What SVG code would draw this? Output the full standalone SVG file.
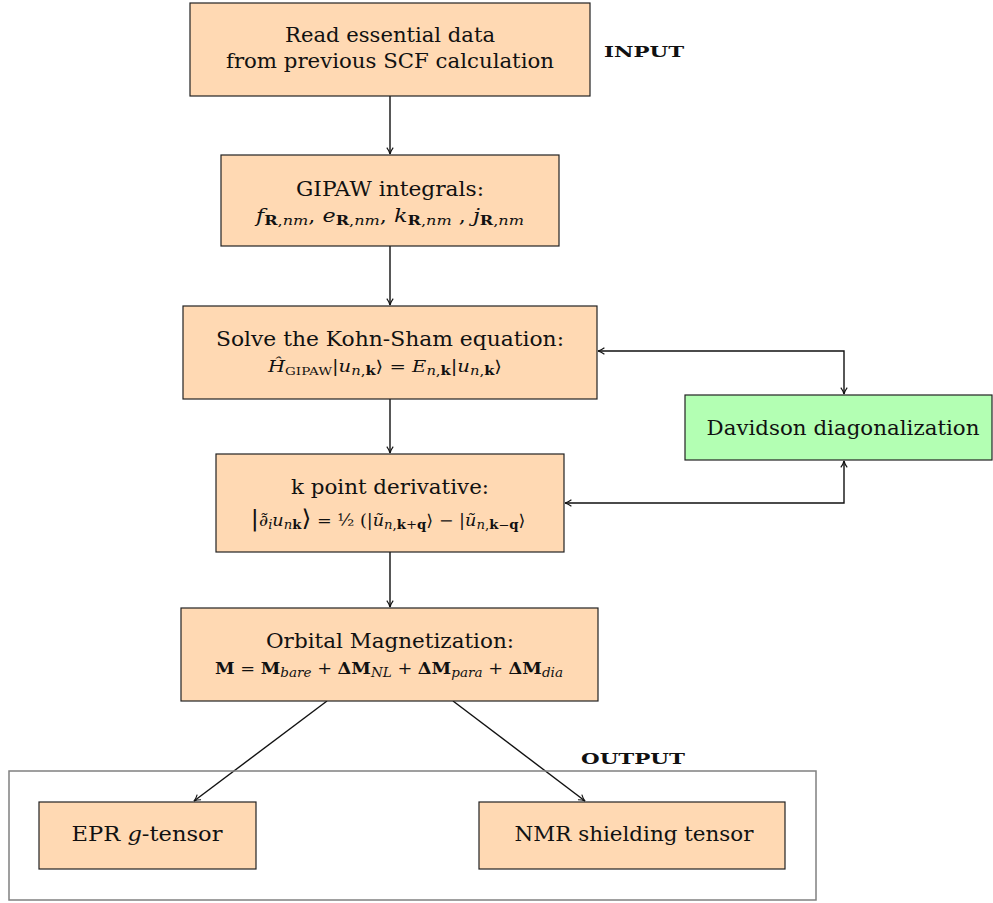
<svg xmlns="http://www.w3.org/2000/svg" width="993" height="903" viewBox="0 0 993 903">
<defs>
<style>
.box{fill:#FFD9B3;stroke:#222;stroke-width:1.2}
.gbox{fill:#B3FFB3;stroke:#222;stroke-width:1.2}
.frame{fill:none;stroke:#808080;stroke-width:1.5}
text{font-family:"DejaVu Serif","Liberation Serif",serif;fill:#111}
.t{font-size:21px;text-anchor:middle}
.m{font-size:18px;text-anchor:middle}
.lbl{font-size:15px;font-weight:bold}
.i{font-style:italic}
.b{font-weight:bold}
.s{font-size:13px;baseline-shift:-3px}
.c{fill:none;stroke:#111;stroke-width:1.4}
</style>
<marker id="ah" viewBox="0 0 10 10" refX="9" refY="5" markerWidth="8" markerHeight="8" orient="auto-start-reverse" markerUnits="userSpaceOnUse">
<path d="M1,1 Q5,4 9,5 Q5,6 1,9" fill="none" stroke="#111" stroke-width="1.4"/>
</marker>
</defs>
<rect width="993" height="903" fill="#fff"/>

<g id="connectors">
<line class="c" x1="390" y1="96" x2="390" y2="154" marker-end="url(#ah)"/>
<line class="c" x1="390" y1="246" x2="390" y2="305" marker-end="url(#ah)"/>
<line class="c" x1="390" y1="399" x2="390" y2="453" marker-end="url(#ah)"/>
<line class="c" x1="390" y1="552" x2="390" y2="607" marker-end="url(#ah)"/>
<line class="c" x1="327" y1="701" x2="194" y2="801" marker-end="url(#ah)"/>
<line class="c" x1="453" y1="701" x2="585" y2="801" marker-end="url(#ah)"/>
<polyline class="c" points="598,351 844,351 844,394" marker-start="url(#ah)" marker-end="url(#ah)"/>
<polyline class="c" points="565,503 844,503 844,461" marker-start="url(#ah)" marker-end="url(#ah)"/>
</g>

<g id="read">
<rect class="box" x="190" y="3" width="400" height="93"/>
<text class="t" x="390" y="42" textLength="210" lengthAdjust="spacingAndGlyphs">Read essential data</text>
<text class="t" x="390" y="68" textLength="328" lengthAdjust="spacingAndGlyphs">from previous SCF calculation</text>
</g>
<g id="input-label">
<text class="lbl" x="604" y="57" textLength="80" lengthAdjust="spacingAndGlyphs">INPUT</text>
</g>

<g id="gipaw">
<rect class="box" x="221" y="155" width="338" height="91"/>
<text class="t" x="390" y="196" textLength="188" lengthAdjust="spacingAndGlyphs">GIPAW integrals:</text>
<text class="m" x="390" y="222" textLength="268" lengthAdjust="spacingAndGlyphs"><tspan class="i">f</tspan><tspan class="s"><tspan class="b">R</tspan>,<tspan class="i">nm</tspan></tspan>, <tspan class="i">e</tspan><tspan class="s"><tspan class="b">R</tspan>,<tspan class="i">nm</tspan></tspan>, <tspan class="i">k</tspan><tspan class="s"><tspan class="b">R</tspan>,<tspan class="i">nm</tspan></tspan> , <tspan class="i">j</tspan><tspan class="s"><tspan class="b">R</tspan>,<tspan class="i">nm</tspan></tspan></text>
</g>

<g id="kohnsham">
<rect class="box" x="183" y="306" width="414" height="93"/>
<text class="t" x="390" y="346" textLength="348" lengthAdjust="spacingAndGlyphs">Solve the Kohn-Sham equation:</text>
<text class="m" x="385" y="372" textLength="234" lengthAdjust="spacingAndGlyphs" style="font-size:16px"><tspan class="i">Ĥ</tspan><tspan class="s" style="font-size:11px">GIPAW</tspan>|<tspan class="i">u</tspan><tspan class="s" style="font-size:12px"><tspan class="i">n</tspan>,<tspan class="b">k</tspan></tspan>⟩ = <tspan class="i">E</tspan><tspan class="s" style="font-size:12px"><tspan class="i">n</tspan>,<tspan class="b">k</tspan></tspan>|<tspan class="i">u</tspan><tspan class="s" style="font-size:12px"><tspan class="i">n</tspan>,<tspan class="b">k</tspan></tspan>⟩</text>
</g>

<g id="kpoint">
<rect class="box" x="216" y="454" width="348" height="98"/>
<text class="t" x="390" y="494" textLength="198" lengthAdjust="spacingAndGlyphs">k point derivative:</text>
<text class="m" x="388" y="526" textLength="275" lengthAdjust="spacingAndGlyphs" style="font-size:16px"><tspan style="font-size:23px">|</tspan><tspan class="i">∂̃</tspan><tspan class="s" style="font-size:12px"><tspan class="i">i</tspan></tspan><tspan class="i">u</tspan><tspan class="s" style="font-size:12px"><tspan class="i">n</tspan><tspan class="b">k</tspan></tspan><tspan style="font-size:23px">⟩</tspan> = ½ (|<tspan class="i">ũ</tspan><tspan class="s" style="font-size:12px"><tspan class="i">n</tspan>,<tspan class="b">k</tspan>+<tspan class="b">q</tspan></tspan>⟩ − |<tspan class="i">ũ</tspan><tspan class="s" style="font-size:12px"><tspan class="i">n</tspan>,<tspan class="b">k</tspan>−<tspan class="b">q</tspan></tspan>⟩</text>
</g>

<g id="orbital">
<rect class="box" x="181" y="608" width="417" height="93"/>
<text class="t" x="390" y="648" textLength="248" lengthAdjust="spacingAndGlyphs">Orbital Magnetization:</text>
<text class="m" x="389" y="674" textLength="348" lengthAdjust="spacingAndGlyphs" style="font-size:17px"><tspan class="b">M</tspan> = <tspan class="b">M</tspan><tspan class="s i">bare</tspan> + <tspan class="b">ΔM</tspan><tspan class="s i">NL</tspan> + <tspan class="b">ΔM</tspan><tspan class="s i">para</tspan> + <tspan class="b">ΔM</tspan><tspan class="s i">dia</tspan></text>
</g>

<g id="davidson">
<rect class="gbox" x="685" y="395" width="307" height="65"/>
<text class="t" x="843" y="435" textLength="273" lengthAdjust="spacingAndGlyphs">Davidson diagonalization</text>
</g>

<g id="output">
<rect class="frame" x="9" y="771" width="807" height="129"/>
<text class="lbl" x="581" y="764" textLength="104" lengthAdjust="spacingAndGlyphs">OUTPUT</text>
</g>

<g id="epr">
<rect class="box" x="39" y="802" width="217" height="67"/>
<text class="t" x="147" y="841" textLength="151" lengthAdjust="spacingAndGlyphs">EPR <tspan class="i">g</tspan>-tensor</text>
</g>

<g id="nmr">
<rect class="box" x="479" y="802" width="306" height="67"/>
<text class="t" x="634" y="841" textLength="239" lengthAdjust="spacingAndGlyphs">NMR shielding tensor</text>
</g>
</svg>
